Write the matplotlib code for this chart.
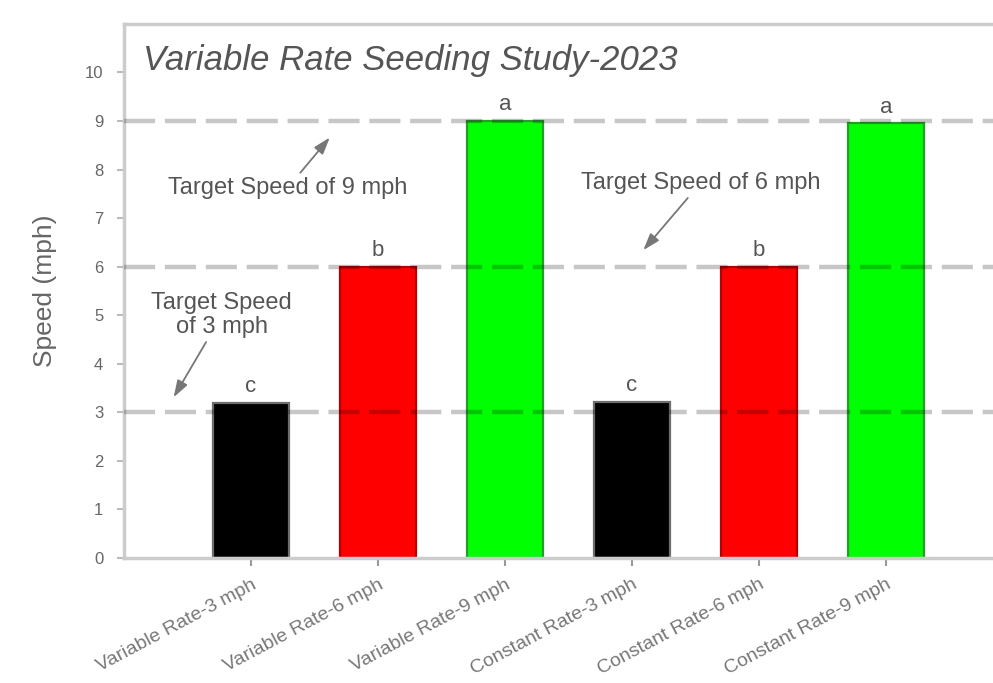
import matplotlib.pyplot as plt
import numpy as np

plt.rcParams["font.family"] = ["Liberation Sans", "DejaVu Sans"]

# Treatments, mean speeds and significance letters
treatments = [
    "Variable Rate-3 mph",
    "Variable Rate-6 mph",
    "Variable Rate-9 mph",
    "Constant Rate-3 mph",
    "Constant Rate-6 mph",
    "Constant Rate-9 mph",
]
speeds = [3.2, 6.0, 9.0, 3.22, 6.0, 8.95]
letters = ["c", "b", "a", "c", "b", "a"]
target_speeds = [3, 6, 9]

face_colors = ["#000000", "#ff0000", "#00ff00"] * 2
edge_colors = ["#6e6e6e", "#b40000", "#2a9a2a"] * 2

fig = plt.figure(figsize=(9.93, 6.83), dpi=100)
# axes run off the right edge of the figure
ax = fig.add_axes([0.125, 0.183, 0.946, 0.782])

x = np.arange(len(treatments))
ax.bar(x, speeds, width=0.6, color=face_colors, edgecolor=edge_colors,
       linewidth=1.6, zorder=2)

for t in target_speeds:
    ax.axhline(t, color="k", alpha=0.22, linewidth=3.2, dashes=(7, 2.2), zorder=3)

for xi, s, lab in zip(x, speeds, letters):
    ax.annotate(lab, (xi, s), xytext=(0, 4), textcoords="offset points",
                ha="center", va="bottom", fontsize=16, color="#555555")

arrow = dict(arrowstyle="-|>,head_length=0.6,head_width=0.2", color="#777777",
             lw=1.3, shrinkA=1, shrinkB=0)
ax.annotate("Target Speed of 9 mph", xy=(0.62, 8.66), xytext=(0.29, 7.63),
            ha="center", va="center", fontsize=17, color="#555555",
            arrowprops=arrow)
ax.annotate("Target Speed of 6 mph", xy=(3.09, 6.34), xytext=(3.54, 7.72),
            ha="center", va="center", fontsize=17, color="#555555",
            arrowprops=arrow)
ax.annotate("Target Speed\nof 3 mph", xy=(-0.61, 3.31), xytext=(-0.23, 5.0),
            ha="center", va="center", fontsize=17, color="#555555",
            linespacing=1.1, arrowprops=arrow)

ax.text(0.02, 0.962, "Variable Rate Seeding Study-2023", transform=ax.transAxes,
        ha="left", va="top", fontsize=25, style="italic", color="#555555")

ax.set_xlim(-1.0, 6.4)
ax.set_ylim(0, 11)
ax.set_yticks(range(0, 11))
ax.set_xticks(x)
ax.set_xticklabels(treatments, rotation=28, ha="right", rotation_mode="anchor",
                   fontsize=14, color="#777777")
ax.set_ylabel("Speed (mph)", fontsize=19, color="#666666", labelpad=20)

ax.tick_params(axis="y", labelsize=12, labelcolor="#666666", color="#bbbbbb",
               length=5, width=1.5, pad=10)
ax.tick_params(axis="x", color="#999999", length=6, width=1.5, pad=7)
for side in ["left", "bottom", "top", "right"]:
    ax.spines[side].set_color("#cccccc")
    ax.spines[side].set_linewidth(2.5)

fig.savefig("out.png", dpi=100)
